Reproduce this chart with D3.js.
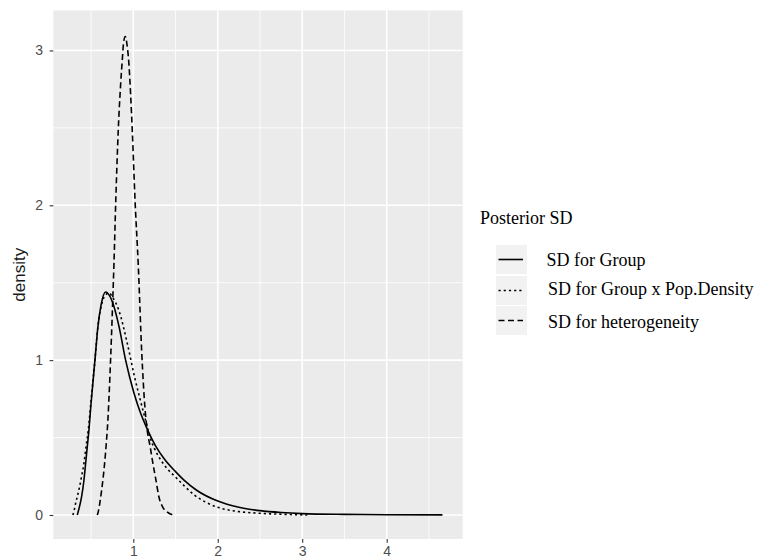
<!DOCTYPE html>
<html>
<head>
<meta charset="utf-8">
<script src="https://cdn.jsdelivr.net/npm/d3@7"></script>
<style>
  html, body { margin: 0; padding: 0; background: #ffffff; }
  svg { display: block; }
</style>
</head>
<body>
<svg id="chart" width="759" height="559"></svg>
<script>
// ---- data ----
const seriesNames = ["SD for Group", "SD for Group x Pop.Density", "SD for heterogeneity"];
const legendTitle = "Posterior SD";
const yTitle = "density";
const xTicks = [1, 2, 3, 4];
const yTicks = [0, 1, 2, 3];
const xMinor = [0.5, 1.5, 2.5, 3.5, 4.5];
const yMinor = [0.5, 1.5, 2.5];

const groupX = [0.337,0.347,0.37,0.388,0.416,0.436,0.455,0.475,0.50,0.546,0.581,0.62,0.672,0.75,0.83,0.909,1.007,1.085,1.165,1.26,1.37,1.5,1.6,1.75,2.0,2.25,2.5,2.75,3.0,3.5,4.0,4.66];
const groupY = [0.0,0.02,0.07,0.118,0.226,0.334,0.44,0.548,0.72,1.0,1.215,1.36,1.44,1.38,1.22,1.0,0.79,0.66,0.555,0.45,0.36,0.28,0.225,0.16,0.09,0.05,0.028,0.016,0.009,0.004,0.002,0.001];

const interX = [0.285,0.30,0.317,0.34,0.364,0.39,0.416,0.44,0.467,0.50,0.546,0.581,0.63,0.68,0.711,0.75,0.83,0.929,1.015,1.114,1.165,1.205,1.25,1.32,1.4,1.5,1.6,1.72,1.85,2.0,2.25,2.5,2.75,3.06];
const interY = [0.0,0.03,0.075,0.125,0.183,0.255,0.334,0.44,0.548,0.74,1.0,1.215,1.37,1.425,1.435,1.41,1.32,1.108,0.892,0.677,0.57,0.49,0.43,0.36,0.30,0.245,0.19,0.13,0.085,0.05,0.022,0.011,0.005,0.0];

const hetX = [0.574,0.585,0.61,0.64,0.66,0.68,0.70,0.715,0.731,0.75,0.771,0.794,0.822,0.85,0.87,0.885,0.905,0.925,0.948,0.968,0.988,1.019,1.06,1.10,1.137,1.165,1.2,1.232,1.27,1.303,1.35,1.40,1.473];
const hetY = [0.0,0.02,0.10,0.226,0.33,0.46,0.62,0.79,1.0,1.28,1.62,2.054,2.484,2.78,2.94,3.05,3.09,3.04,2.914,2.72,2.484,2.054,1.60,1.05,0.70,0.548,0.44,0.334,0.22,0.118,0.05,0.02,0.0];

const seriesX = [groupX, interX, hetX];
const seriesY = [groupY, interY, hetY];
const dashes = [null, "2.2,3", "6,3.5"];

// ---- layout ----
const svg = d3.select("#chart");
const P = { left: 53.3, right: 462.7, top: 10.5, bottom: 539 };

const x = d3.scaleLinear().domain([0.053, 4.9]).range([P.left, P.right]);
const y = d3.scaleLinear().domain([-0.155, 3.258]).range([P.bottom, P.top]);

// panel
svg.append("rect")
  .attr("x", P.left).attr("y", P.top)
  .attr("width", P.right - P.left).attr("height", P.bottom - P.top)
  .attr("fill", "#ebebeb");

const grid = svg.append("g");
grid.selectAll(".xmin").data(xMinor).enter().append("line")
  .attr("x1", d => x(d)).attr("x2", d => x(d))
  .attr("y1", P.top).attr("y2", P.bottom)
  .attr("stroke", "#ffffff").attr("stroke-width", 0.8);
grid.selectAll(".ymin").data(yMinor).enter().append("line")
  .attr("y1", d => y(d)).attr("y2", d => y(d))
  .attr("x1", P.left).attr("x2", P.right)
  .attr("stroke", "#ffffff").attr("stroke-width", 0.8);
grid.selectAll(".xmaj").data(xTicks).enter().append("line")
  .attr("x1", d => x(d)).attr("x2", d => x(d))
  .attr("y1", P.top).attr("y2", P.bottom)
  .attr("stroke", "#ffffff").attr("stroke-width", 1.6);
grid.selectAll(".ymaj").data(yTicks).enter().append("line")
  .attr("y1", d => y(d)).attr("y2", d => y(d))
  .attr("x1", P.left).attr("x2", P.right)
  .attr("stroke", "#ffffff").attr("stroke-width", 1.6);

// axes
const sans = "Liberation Sans, Arial, sans-serif";
const xAxis = d3.axisBottom(x).tickValues(xTicks).tickFormat(d3.format("d"))
  .tickSizeInner(3.7).tickSizeOuter(0).tickPadding(3);
const gx = svg.append("g").attr("transform", `translate(0,${P.bottom})`).call(xAxis);
gx.select(".domain").remove();
gx.selectAll(".tick line").attr("stroke", "#333333").attr("stroke-width", 1.1);
gx.selectAll(".tick text").attr("fill", "#4d4d4d")
  .style("font-family", sans).style("font-size", "14px");

const yAxis = d3.axisLeft(y).tickValues(yTicks).tickFormat(d3.format("d"))
  .tickSizeInner(3.7).tickSizeOuter(0).tickPadding(6.5);
const gy = svg.append("g").attr("transform", `translate(${P.left},0)`).call(yAxis);
gy.select(".domain").remove();
gy.selectAll(".tick line").attr("stroke", "#333333").attr("stroke-width", 1.1);
gy.selectAll(".tick text").attr("fill", "#4d4d4d")
  .style("font-family", sans).style("font-size", "14px");

svg.append("text")
  .attr("transform", `translate(25,${(P.top + P.bottom) / 2}) rotate(-90)`)
  .attr("text-anchor", "middle")
  .style("font-family", sans).style("font-size", "17px")
  .attr("fill", "#1a1a1a")
  .text(yTitle);

// lines
svg.append("defs").append("clipPath").attr("id", "clip")
  .append("rect").attr("x", P.left).attr("y", P.top)
  .attr("width", P.right - P.left).attr("height", P.bottom - P.top);

const line = d3.line().x(d => x(d[0])).y(d => y(d[1])).curve(d3.curveMonotoneX);
const lg = svg.append("g").attr("clip-path", "url(#clip)");
seriesNames.forEach((name, i) => {
  const pts = seriesX[i].map((v, j) => [v, seriesY[i][j]]);
  lg.append("path").datum(pts)
    .attr("d", line)
    .attr("fill", "none")
    .attr("stroke", "#000000")
    .attr("stroke-width", 1.6)
    .attr("stroke-dasharray", dashes[i]);
});

// legend
const leg = svg.append("g");
const serif = "Liberation Serif, Times New Roman, serif";
leg.append("text").attr("x", 480).attr("y", 224)
  .style("font-family", serif).style("font-size", "18px").attr("fill", "#000")
  .text(legendTitle);

const keyTop = [245, 276, 306];
const keyH = 29, keyW = 31, keyX = 496;
const textX = [546.5, 548, 548];
const textY = [266, 295, 328];
seriesNames.forEach((name, i) => {
  leg.append("rect").attr("x", keyX).attr("y", keyTop[i])
    .attr("width", keyW).attr("height", keyH).attr("fill", "#f2f2f2");
  leg.append("line")
    .attr("x1", keyX + 2.5).attr("x2", keyX + keyW - 4)
    .attr("y1", keyTop[i] + keyH / 2).attr("y2", keyTop[i] + keyH / 2)
    .attr("stroke", "#000").attr("stroke-width", 1.6)
    .attr("stroke-dasharray", dashes[i]);
  leg.append("text").attr("x", textX[i]).attr("y", textY[i])
    .style("font-family", serif).style("font-size", "18px").attr("fill", "#000")
    .text(name);
});
</script>
</body>
</html>
